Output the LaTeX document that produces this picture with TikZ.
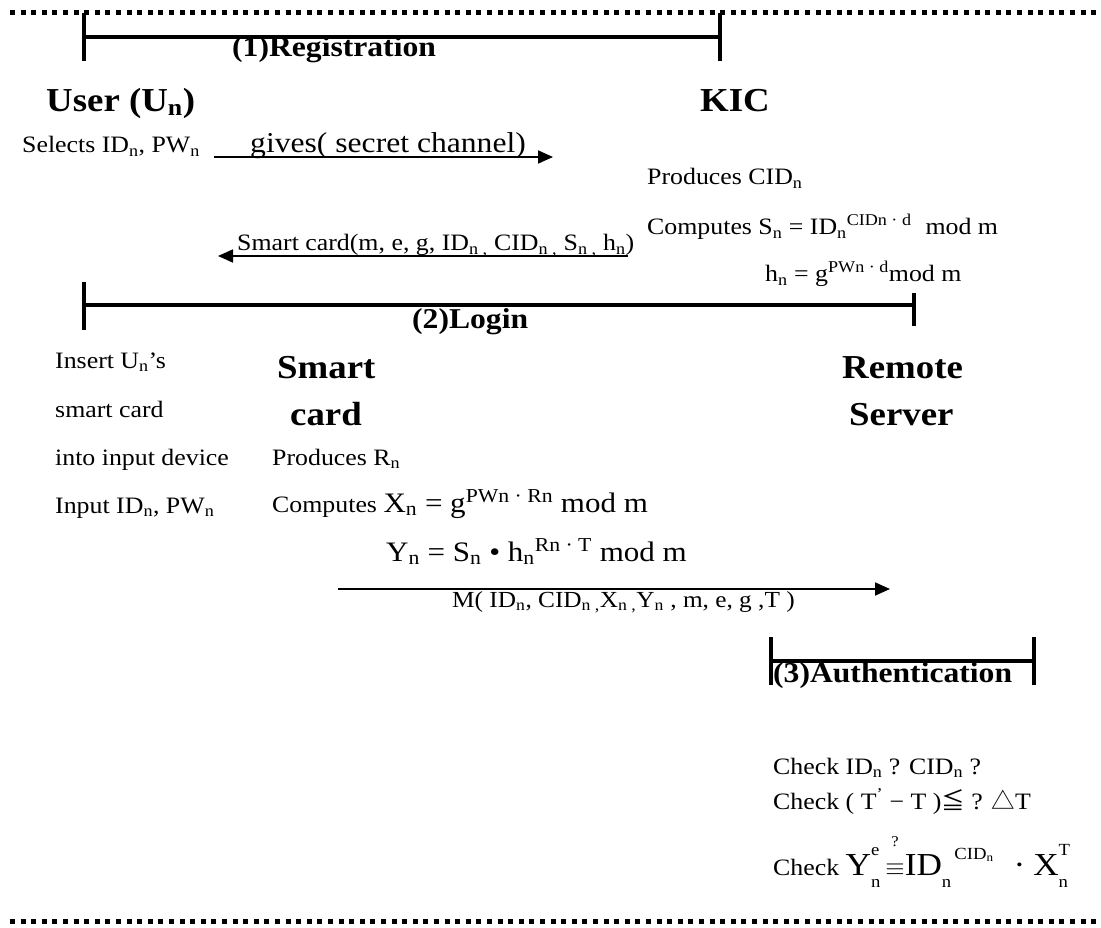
\documentclass[tikz,border=0pt]{standalone}
\usepackage{fontspec}
\setmainfont{Liberation Serif}[FakeStretch=1.1]
\newfontfamily\cjksym{Noto Sans CJK SC}
\usetikzlibrary{arrows.meta}

% sub- and superscripts in the text font
\newcommand\sbn[1]{\textsubscript{#1}}
\newcommand\spx[1]{\textsuperscript{#1}}
% stacked superscript over subscript
\newcommand\supsub[2]{\makebox[0pt][l]{\raisebox{0.6em}{\fontsize{17}{17}\selectfont#1}}\raisebox{-0.4em}{\fontsize{17}{17}\selectfont#2}}
% identity sign with a question mark above
\newcommand\qeq{\ooalign{\hfil\raisebox{0.9em}{\fontsize{15}{15}\selectfont ?}\hfil\cr$\equiv$\cr}}

\tikzset{
  txt/.style={anchor=base west, inner sep=0pt, font=\fontsize{23.5}{27}\selectfont},
  msgtxt/.style={anchor=base west, inner sep=0pt, font=\fontsize{23}{27}\selectfont},
  bigtxt/.style={anchor=base west, inner sep=0pt, font=\fontsize{28.2}{31}\selectfont},
  head/.style={anchor=base west, inner sep=0pt, font=\bfseries\fontsize{33.5}{37}\selectfont},
  phase/.style={anchor=base west, inner sep=0pt, font=\bfseries\fontsize{28.75}{31}\selectfont},
  bar/.style={line width=3.5pt},
  tickmark/.style={line width=4pt},
  msg/.style={line width=1.8pt, -{Triangle[length=15pt,width=13pt]}},
  frame/.style={line width=5pt, dash pattern=on 5pt off 5.6pt},
}

\begin{document}
\begin{tikzpicture}[x=1pt, y=-1pt]
\useasboundingbox (0,0) rectangle (1101,928);

% outer dotted rules
\coordinate (topL) at (10,13);  \coordinate (topR) at (1101,13);
\coordinate (botL) at (10,921); \coordinate (botR) at (1101,921);
\draw[frame] (topL) -- (topR);
\draw[frame] (botL) -- (botR);

% ---------------- (1) Registration ----------------
\coordinate (r1a) at (84,13);  \coordinate (r1b) at (84,61);
\coordinate (r2a) at (720,13); \coordinate (r2b) at (720,61);
\coordinate (rl) at (84,37);   \coordinate (rr) at (720,37);
\draw[tickmark] (r1a) -- (r1b);
\draw[tickmark] (r2a) -- (r2b);
\draw[bar] (rl) -- (rr);
\node[phase] (reg) at (232,57) {(1)Registration};

\node[head] (user) at (46,112) {User (U\sbn{n})};
\node[head] (kic) at (700,112) {KIC};

\node[txt] (sel) at (22,153) {Selects ID\sbn{n}, PW\sbn{n}};
\coordinate (g1) at (214,157); \coordinate (g2) at (553,157);
\draw[msg] (g1) -- (g2);
\node[bigtxt, font=\fontsize{28.75}{31}\selectfont] (gives) at (250,153) {gives( secret channel)};

\node[txt] (pcid) at (647,185) {Produces CID\sbn{n}};
\node[txt] (csn) at (647,235) {Computes S\sbn{n} = ID\sbn{n}\spx{CIDn · d}\hspace{14pt}mod m};
\node[txt] (hn) at (765,282) {h\sbn{n} = g\spx{PWn · d}mod m};

\coordinate (s1) at (628,256); \coordinate (s2) at (218,256);
\draw[msg] (s1) -- (s2);
\node[txt] (card) at (237,251) {Smart card(m, e, g, ID\sbn{n ,} CID\sbn{n ,} S\sbn{n ,} h\sbn{n})};

% ---------------- (2) Login ----------------
\coordinate (l1a) at (84,282);  \coordinate (l1b) at (84,330);
\coordinate (l2a) at (914,293); \coordinate (l2b) at (914,326);
\coordinate (ll) at (84,305);   \coordinate (lr) at (914,305);
\draw[tickmark] (l1a) -- (l1b);
\draw[tickmark] (l2a) -- (l2b);
\draw[bar] (ll) -- (lr);
\node[phase] (login) at (412,328) {(2)Login};

\node[txt] (ins1) at (55,368) {Insert U\sbn{n}’s};
\node[txt] (ins2) at (55,417) {smart card};
\node[txt] (ins3) at (55,465) {into input device};
\node[txt] (ins4) at (55,513) {Input ID\sbn{n}, PW\sbn{n}};

\node[head] (sc1) at (277,378) {Smart};
\node[head] (sc2) at (290,425) {card};
\node[head] (rs1) at (842,378) {Remote};
\node[head] (rs2) at (849,425) {Server};

\node[txt] (prn) at (272,465) {Produces R\sbn{n}};
\node[txt] (cxn) at (272,512) {Computes {\fontsize{28.2}{31}\selectfont X\sbn{n} = g\spx{PWn · Rn} mod m}};
\node[bigtxt] (yn) at (386,561) {Y\sbn{n} = S\sbn{n} • h\sbn{n}\spx{Rn · T} mod m};

\coordinate (m1) at (338,589); \coordinate (m2) at (890,589);
\draw[msg] (m1) -- (m2);
\node[msgtxt] (mtxt) at (452,607) {M( ID\sbn{n}, CID\sbn{n ,}X\sbn{n ,}Y\sbn{n} , m, e, g ,T )};

% ---------------- (3) Authentication ----------------
\coordinate (a1a) at (771,637);  \coordinate (a1b) at (771,685);
\coordinate (a2a) at (1034,637); \coordinate (a2b) at (1034,685);
\coordinate (al) at (771,661);   \coordinate (ar) at (1034,661);
\draw[tickmark] (a1a) -- (a1b);
\draw[tickmark] (a2a) -- (a2b);
\draw[bar] (al) -- (ar);
\node[phase] (auth) at (773,682) {(3)Authentication};

\node[txt] (chk1) at (773,774) {Check ID\sbn{n} ? CID\sbn{n} ?};
\node[txt] (chk2) at (773,809) {Check ( T\spx{'} − T ){\cjksym ≦} ? {\cjksym △}T};
\node[txt] (chk3) at (773,875) {Check {\fontsize{32}{34}\selectfont Y\supsub{e}{n}\hspace{5pt}\qeq ID\raisebox{-0.4em}{\fontsize{17}{17}\selectfont n}\hspace{3pt}\raisebox{0.5em}{\fontsize{17}{17}\selectfont CID\sbn{n}}\hspace{20pt}·\hspace{8pt}X\supsub{T}{n}}};
\end{tikzpicture}
\end{document}
